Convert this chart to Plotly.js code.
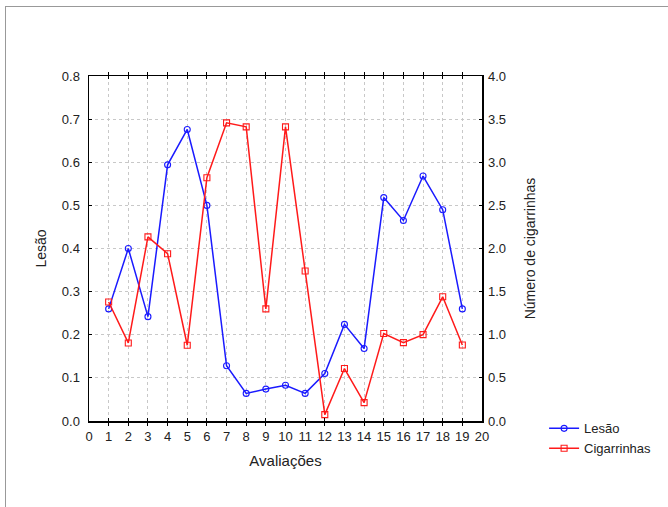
<!DOCTYPE html>
<html>
<head>
<meta charset="utf-8">
<script src="https://cdn.plot.ly/plotly-3.0.1.min.js"></script>
<style>
html,body{margin:0;padding:0;background:#fff;}
#frame{position:absolute;left:5px;top:6px;width:680px;height:520px;border-top:1px solid #999;border-left:1px solid #999;}
#chart{position:absolute;left:0;top:0;width:668px;height:507px;}
</style>
</head>
<body>
<div id="frame"></div>
<div id="chart"></div>
<script>
const avaliacoes = [1,2,3,4,5,6,7,8,9,10,11,12,13,14,15,16,17,18,19];
const lesao = [0.26,0.40,0.242,0.594,0.676,0.50,0.128,0.064,0.074,0.083,0.064,0.11,0.224,0.168,0.518,0.465,0.568,0.49,0.26];
const cigarrinhas = [1.38,0.905,2.135,1.94,0.878,2.82,3.457,3.41,1.30,3.41,1.74,0.074,0.608,0.213,1.014,0.909,1.002,1.44,0.882];
const xTicks = [0,1,2,3,4,5,6,7,8,9,10,11,12,13,14,15,16,17,18,19,20];

const font = {family:'"Liberation Sans", Arial, sans-serif', color:'#222', size:13};

const traces = [
  {x:avaliacoes, y:lesao, name:'Lesão', type:'scatter', mode:'lines+markers',
   line:{color:'#1a1aff', width:1.5},
   marker:{symbol:'circle-open', size:6, color:'#1a1aff', line:{width:1.1}}, yaxis:'y'},
  {x:avaliacoes, y:cigarrinhas, name:'Cigarrinhas', type:'scatter', mode:'lines+markers',
   line:{color:'#ff1a1a', width:1.5},
   marker:{symbol:'square-open', size:6, color:'#ff1a1a', line:{width:1.1}}, yaxis:'y2'}
];

const layout = {
  width:668, height:507,
  margin:{l:89, r:186, t:76, b:86},
  paper_bgcolor:'rgba(0,0,0,0)', plot_bgcolor:'#fff',
  font:font,
  showlegend:true,
  legend:{x:1.158, y:0.022, xanchor:'left', yanchor:'top', font:{size:13, family:font.family, color:'#222'},
          tracegroupgap:0, itemwidth:30, bgcolor:'rgba(0,0,0,0)'},
  xaxis:{range:[0,20], tickvals:xTicks, ticktext:xTicks.map(String), showgrid:true,
         gridcolor:'#c8c8c8', griddash:'dot', gridwidth:1, zeroline:false,
         showline:true, linecolor:'#000', linewidth:1.5, mirror:'allticks',
         ticks:'inside', ticklen:3, tickcolor:'#000', ticklabelstandoff:3,
         title:{text:'Avaliações', font:{size:15, family:font.family, color:'#222'}, standoff:12}},
  yaxis:{range:[0,0.8], dtick:0.1, tickformat:'.1f', showgrid:true,
         gridcolor:'#c8c8c8', griddash:'dot', gridwidth:1, zeroline:false,
         showline:true, linecolor:'#000', linewidth:1.5, mirror:true,
         ticks:'inside', ticklen:3, tickcolor:'#000', ticklabelstandoff:5,
         title:{text:'Lesão', font:{size:14, family:font.family, color:'#222'}, standoff:12}},
  yaxis2:{range:[0,4], dtick:0.5, tickformat:'.1f', overlaying:'y', side:'right',
          showgrid:false, zeroline:false, showline:false,
          ticks:'inside', ticklen:3, tickcolor:'#000', ticklabelstandoff:5,
          title:{text:'Número de cigarrinhas', font:{size:14, family:font.family, color:'#222'}, standoff:20}}
};

Plotly.newPlot('chart', traces, layout, {displayModeBar:false, staticPlot:true});
</script>
</body>
</html>
